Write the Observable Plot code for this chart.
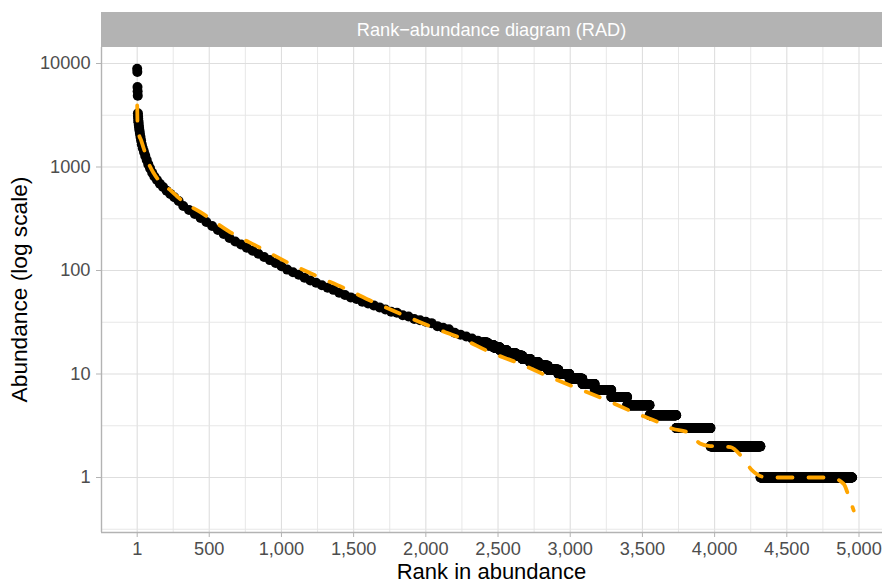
<!DOCTYPE html>
<html><head><meta charset="utf-8">
<script src="https://cdn.jsdelivr.net/npm/d3@7"></script>
<script src="https://cdn.jsdelivr.net/npm/@observablehq/plot@0.6"></script>
<style>
body{margin:0;background:#fff;font-family:"Liberation Sans",Arial,sans-serif;}
#wrap{position:relative;width:882px;height:583px;overflow:hidden;}
#strip{position:absolute;left:101px;top:12px;width:781px;height:35px;background:#B3B3B3;color:#fff;font-size:18.2px;line-height:37px;text-align:center;overflow:hidden;}
#chart{position:absolute;left:0;top:47px;}
g[aria-label="x-axis tick"], g[aria-label="y-axis tick"]{stroke:#B3B3B3;}
g[aria-label="x-axis tick label"], g[aria-label="y-axis tick label"]{fill:#4D4D4D;}
</style></head>
<body><div id="wrap"><div id="strip">Rank−abundance diagram (RAD)</div><div id="chart"></div></div>
<script>
// Observed abundances for the most abundant taxa (rank, abundance)
const headRank = [1,2,3,4,5,6,7,8,9,10, 12,14,17,20,24,28,33,40,48,57, 67,78,90,105,120,138,158,180,205,230, 258,288,320,360,400,440,480,520,560,600, 640,680,720,760,800,840,880,920,960,1000, 1040,1080,1120,1160,1200,1240,1280,1320,1360,1400, 1440,1480,1520,1560,1600,1640,1680,1720,1760,1800, 1840,1880,1920,1960,2000,2040,2080,2120,2160,2200, 2240,2280,2320,2360];
const headAbund = [8900,8300,5930,5400,4890,3300,3100,2950,2800,2700, 2550,2400,2250,2100,1950,1800,1650,1520,1400,1280, 1170,1060,970,880,810,750,690,640,590,550, 510,470,420,384,351,321,294,269,246,225, 206,191,178,166,155,145,135,126,118,110, 102,96,91,85,80,76,72,68,65,61, 58,55,53,50,48,46,44,42,40,39, 37,36,34,33,32,31,29,28,27,25, 24,23,22,21];

// Low abundances: every rank from runFirst[i] up to the next run's start has abundance runAbund[i]
const runAbund = [20,19,18,17,16,15,14,13,12,11,10,9,8,7,6,5,4,3,2,1];
const runFirst = [2390,2428,2470,2514,2560,2618,2668,2722,2780,2845,2918,2995,3085,3170,3285,3395,3550,3735,3972,4318];
const lastRank = 4952;

// Fitted model (orange dashed line)
const fitRank = [1,3,6,12,29,47,81,116,151,232,278,324,439,647,843,1040,1236,1444,1640,1836,2044,2252,2448,2656,2863,3059,3262,3464,3611,3708,3810,3903,3958,4018,4110,4191,4260,4330,4410,4629,4800,4893,4930,4963];
const fitAbund = [3930,2700,2350,2100,1800,1500,1080,870,740,594,519,457,366,234,168,120,89.5,66.6,49.4,37.6,28.3,21.9,16.2,12.5,9.3,7.2,5.5,4.12,3.42,2.96,2.74,2.12,2.02,2.0,1.97,1.57,1.17,1.02,1.0,1.0,1.0,0.87,0.65,0.48];

// Axis ticks
const xTicks = [1,500,1000,1500,2000,2500,3000,3500,4000,4500,5000];
const xMinor = [250.5,750,1250,1750,2250,2750,3250,3750,4250,4750];
const yTicks = [1,10,100,1000,10000];
const yMinor = [0.3162,3.162,31.62,316.2,3162];
const xDomain = [-246.2, 5162.7];
const yDomain = [0.2942, 14276];

const points = headRank.map((r, i) => ({rank: r, abundance: headAbund[i]}));
runAbund.forEach((a, i) => {
  const end = i < runAbund.length - 1 ? runFirst[i + 1] - 1 : lastRank;
  for (let r = runFirst[i]; r <= end; r++) points.push({rank: r, abundance: a});
});
const fit = fitRank.map((r, i) => ({rank: r, abundance: fitAbund[i]}));

const chart = Plot.plot({
  width: 882, height: 536,
  marginLeft: 101, marginRight: 0, marginTop: 0, marginBottom: 51,
  style: {fontFamily: '"Liberation Sans", Arial, sans-serif', fontSize: "18.2px", background: "white", overflow: "visible"},
  x: {domain: xDomain},
  y: {type: "log", domain: yDomain},
  marks: [
    Plot.ruleX(xMinor, {stroke: "#E4E4E4", strokeWidth: 0.9}),
    Plot.ruleX(xTicks, {stroke: "#DEDEDE", strokeWidth: 1.1}),
    Plot.ruleY(yMinor, {stroke: "#E4E4E4", strokeWidth: 0.9}),
    Plot.ruleY(yTicks, {stroke: "#DEDEDE", strokeWidth: 1.1}),
    Plot.ruleX([xDomain[0]], {stroke: "#B3B3B3", strokeWidth: 1.4}),
    Plot.ruleY([yDomain[0]], {stroke: "#B3B3B3", strokeWidth: 1.4}),
    Plot.axisX({ticks: xTicks, tickFormat: d3.format(","), tickSize: 5, tickPadding: 4.5, label: null}),
    Plot.axisY({ticks: yTicks, tickFormat: d => String(d), tickSize: 5, tickPadding: 6, label: null}),
    Plot.dot(points, {x: "rank", y: "abundance", r: 5, fill: "black", stroke: null}),
    Plot.line(fit, {x: "rank", y: "abundance", stroke: "#FFA500", strokeWidth: 3.8, strokeDasharray: "15,16", curve: "monotone-x"})
  ]
});

const svg = d3.select(chart);
svg.append("text").attr("x", 491.5).attr("y", 531.5).attr("text-anchor", "middle")
  .attr("font-size", "22px").attr("fill", "#000").text("Rank in abundance");
svg.append("text").attr("transform", "translate(27,242.5) rotate(-90)").attr("text-anchor", "middle")
  .attr("font-size", "22.7px").attr("fill", "#000").text("Abundance (log scale)");

document.getElementById("chart").appendChild(chart);
</script>
</body></html>
